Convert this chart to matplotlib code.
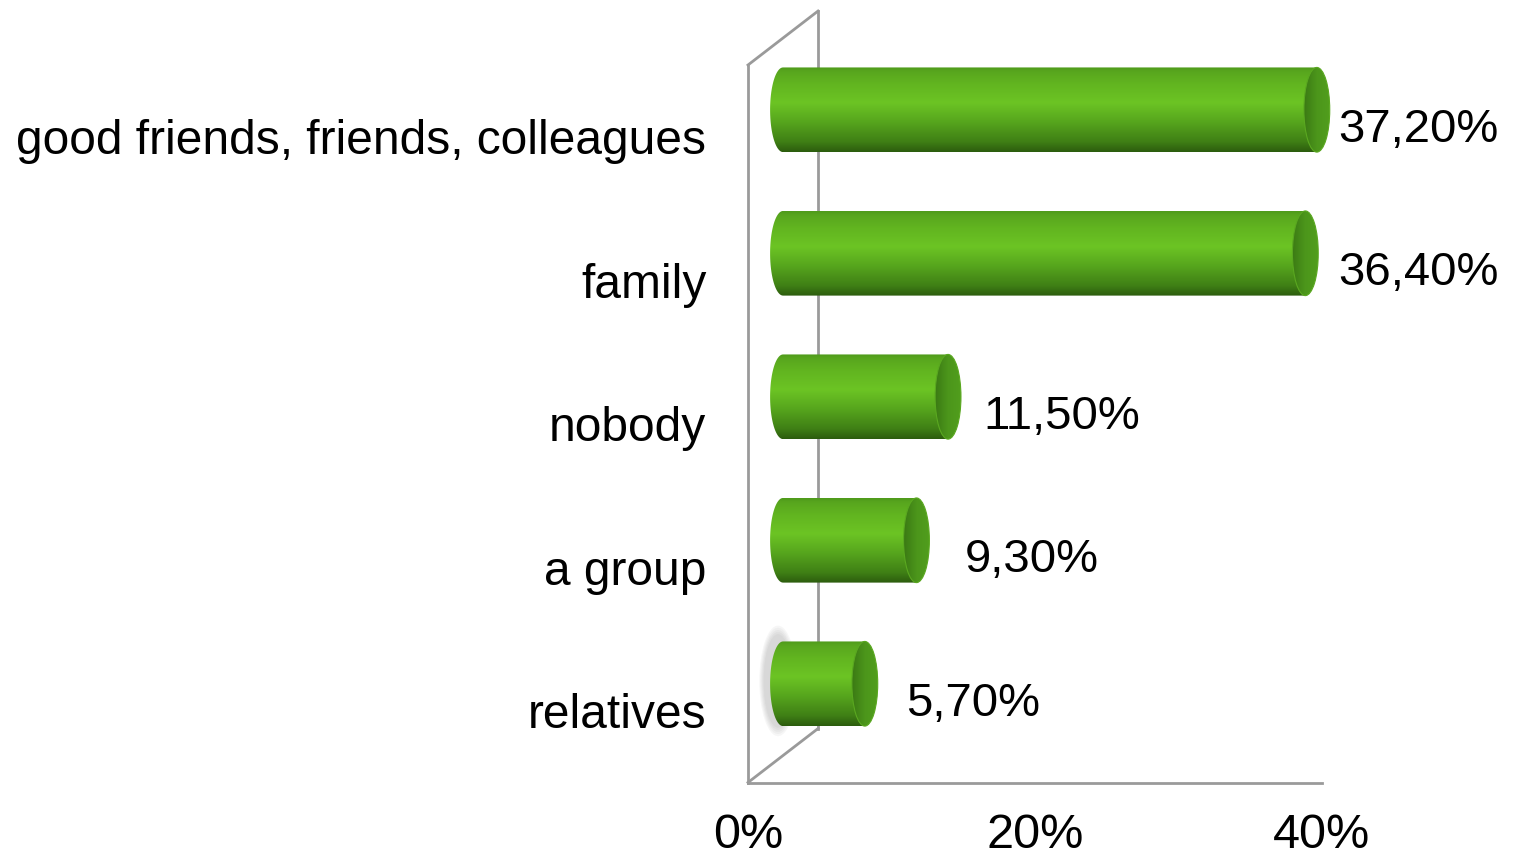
import numpy as np
import matplotlib.pyplot as plt
from matplotlib.patches import Ellipse, PathPatch
from matplotlib.path import Path
from matplotlib.colors import LinearSegmentedColormap

categories = ['relatives', 'a group', 'nobody', 'family', 'good friends, friends, colleagues']
values = [5.7, 9.3, 11.5, 36.4, 37.2]
value_labels = ['5,70%', '9,30%', '11,50%', '36,40%', '37,20%']
xticks = [0, 20, 40]
xtick_labels = ['0%', '20%', '40%']

# depth of the pseudo 3d box (x in percent, y in category units)
dx, dy = 4.88, 0.376
bar_h = 0.59
cap_w = 1.8
label_gap = [5.3, 5.8, 4.9, 4.7, 3.9]

plt.rcParams['font.family'] = ['Liberation Sans', 'DejaVu Sans']

fig = plt.figure(figsize=(15.17, 8.58), dpi=100)
ax = fig.add_axes([748 / 1517, 75.5 / 858, 574 / 1517, 717.5 / 858])
ax.set_xlim(0, 40)
ax.set_ylim(-0.5, 4.5)
for s in ax.spines.values():
    s.set_visible(False)

# walls
frame = dict(color='#9a9a9a', lw=2, clip_on=False, zorder=1)
ax.plot([0, 0], [-0.5, 4.5], **frame)
ax.plot([0, 40], [-0.5, -0.5], **frame)
ax.plot([0, dx], [-0.5, -0.5 + dy], **frame)
ax.plot([0, dx], [4.5, 4.5 + dy], **frame)
ax.plot([dx, dx], [-0.5 + dy, 4.5 + dy], **frame)

body_cmap = LinearSegmentedColormap.from_list('body', [
    (0.0, '#2c5c0e'), (0.12, '#3f7f15'), (0.35, '#56a51d'),
    (0.58, '#6cc424'), (0.8, '#62b520'), (0.95, '#58a61e'), (1.0, '#4f9a1b')])
cap_cmap = LinearSegmentedColormap.from_list('cap', ['#3b7a14', '#4c961b', '#519e1d'])
grad = np.linspace(0, 1, 256).reshape(-1, 1)

for i, (v, lab) in enumerate(zip(values, value_labels)):
    yc = i + dy / 2
    x0 = dx / 2
    x1 = v + dx / 2
    y0, y1 = yc - bar_h / 2, yc + bar_h / 2

    # faint shadow behind the smallest bar
    if v == min(values):
        for k in range(5):
            sh = Ellipse((x0 - 0.35, yc + 0.02), cap_w + 0.2 + k * 0.15, bar_h + 0.06 + k * 0.03,
                         fc='#707070', ec='none', alpha=0.06, zorder=2)
            ax.add_patch(sh)

    # body outline: left rounded end + straight run to the right cap
    t = np.linspace(np.pi / 2, 3 * np.pi / 2, 40)
    left = np.column_stack([x0 + cap_w / 2 * np.cos(t), yc + bar_h / 2 * np.sin(t)])
    verts = np.vstack([[[x1, y1]], left, [[x1, y0]], [[x1, y1]]])
    codes = [Path.MOVETO] + [Path.LINETO] * (len(verts) - 2) + [Path.CLOSEPOLY]
    body = PathPatch(Path(verts, codes), fc='none', ec='none', zorder=3, clip_on=False)
    ax.add_patch(body)
    im = ax.imshow(grad, cmap=body_cmap, origin='lower', aspect='auto',
                   extent=(x0 - cap_w, x1, y0, y1), zorder=3)
    im.set_clip_path(body)
    im.set_clip_box(fig.bbox)

    # right end cap
    cap = Ellipse((x1, yc), cap_w, bar_h, fc='none', ec='#5aa820', lw=0.8, zorder=5,
                  clip_on=False)
    ax.add_patch(cap)
    cim = ax.imshow(np.linspace(0, 1, 64).reshape(1, -1), cmap=cap_cmap, aspect='auto',
                    extent=(x1 - cap_w / 2, x1 + cap_w / 2, y0, y1), zorder=4)
    cim.set_clip_path(cap)
    cim.set_clip_box(fig.bbox)

    ax.text(v + label_gap[i], i + 0.05, lab, fontsize=34, ha='left', va='center')

ax.set_xlim(0, 40)
ax.set_ylim(-0.5, 4.5)
ax.set_yticks(range(len(categories)), categories, fontsize=34.5)
ax.set_xticks(xticks, xtick_labels, fontsize=34)
ax.tick_params(length=0)
ax.tick_params(axis='y', pad=30)
ax.tick_params(axis='x', pad=22)
for t in ax.get_xticklabels():
    t.set_fontfamily(['Liberation Sans Narrow', 'Liberation Sans'])
    t.set_fontsize(35)

fig.savefig('out.png', dpi=100)
